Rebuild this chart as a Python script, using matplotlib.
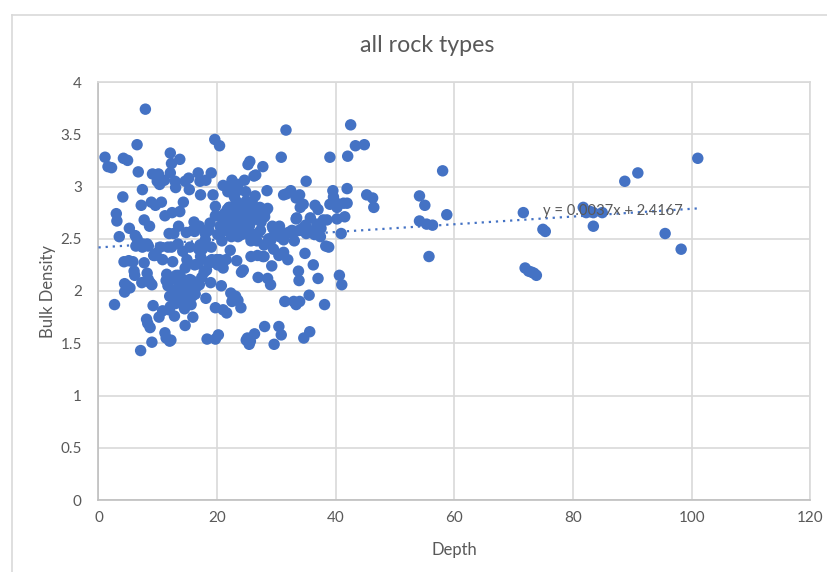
import matplotlib
matplotlib.use("Agg")
import matplotlib.pyplot as plt
from matplotlib.lines import Line2D

title = "all rock types"
x_label = "Depth"
y_label = "Bulk Density"
x_ticks = [0, 20, 40, 60, 80, 100, 120]
y_ticks = [0, 0.5, 1, 1.5, 2, 2.5, 3, 3.5, 4]
y_tick_labels = ["0", "0.5", "1", "1.5", "2", "2.5", "3", "3.5", "4"]
slope = 0.0037
intercept = 2.4167
trend_x = [0, 101]
trend_label = "y = 0.0037x + 2.4167"

depth_upper = [7.9, 1.1, 1.6, 2.2, 4.2, 4.9, 6.5, 6.7, 4.1, 7.4, 9.1, 10.1, 9.9, 10.3, 11.1, 12.1, 12.3, 13.7,
               12.1, 12.9, 13.0, 14.6, 15.2, 16.8, 17.1, 18.1, 19.0, 19.6, 20.4, 21.8, 22.5, 23.5, 24.6, 25.2,
               25.5, 26.2, 26.5, 27.7, 28.4, 31.6, 30.8, 31.7, 32.4, 33.3, 33.9, 35.0, 34.5, 39.0, 42.0, 42.5,
               43.3, 44.8, 45.2, 46.2, 46.4, 41.9, 39.5, 39.6, 39.9, 41.3, 41.9, 39.0, 40.2, 38.5, 37.5, 37.0,
               36.5, 34.9, 34.0, 33.4, 33.3, 32.0, 31.2, 30.5, 29.4, 28.5, 28.1, 27.2, 26.4, 25.9, 24.8, 23.4,
               22.9, 21.8, 21.0, 19.3, 19.7, 17.2, 15.3, 14.3, 13.7, 12.4, 11.2, 10.6, 9.6, 8.9, 8.6, 7.7, 7.2,
               3.0, 3.1, 3.5, 5.2, 6.2, 7.5, 8.4, 9.7, 11.9, 13.5, 14.8, 16.1, 17.0, 18.0, 19.7, 20.6, 21.7,
               22.6, 23.7, 24.4, 25.4, 26.2, 27.3, 28.7, 29.3, 30.5, 31.8, 33.2, 34.6, 36.0, 37.4, 38.3, 40.2,
               41.5, 40.9, 36.8, 35.7, 34.1, 32.6, 31.2, 29.9, 29.0, 27.9, 26.8, 25.7, 24.6, 23.5, 22.4, 21.2,
               20.1, 19.0, 18.0, 17.1, 16.2, 15.4, 14.2, 13.4, 12.7, 11.7, 10.4, 9.3, 8.2, 7.4, 6.5, 22.1, 23.0,
               24.0, 25.0, 26.0, 27.0, 24.5, 23.6, 22.7, 25.6, 26.7, 21.5, 20.5, 28.0, 30.0, 33.0, 35.5, 37.9,
               38.8, 18.8, 15.9, 12.3, 24.2, 23.2, 25.3]
density_upper = [3.74, 3.28, 3.19, 3.18, 3.27, 3.25, 3.40, 3.14, 2.90, 2.97, 3.12, 3.12, 3.05, 3.02, 3.06, 3.32, 3.22, 3.26,
                 3.13, 3.05, 2.99, 3.05, 3.08, 3.13, 3.05, 3.06, 3.13, 3.45, 3.39, 3.00, 3.06, 3.02, 3.06, 3.21,
                 3.24, 3.10, 3.11, 3.19, 2.96, 3.54, 3.28, 2.93, 2.96, 2.89, 2.92, 3.05, 2.83, 3.28, 3.29, 3.59,
                 3.39, 3.40, 2.92, 2.89, 2.80, 2.98, 2.96, 2.90, 2.85, 2.84, 2.84, 2.83, 2.80, 2.68, 2.60, 2.78,
                 2.82, 2.63, 2.80, 2.70, 2.69, 2.56, 2.92, 2.62, 2.60, 2.79, 2.76, 2.80, 2.91, 2.85, 2.95, 2.96,
                 2.90, 2.95, 3.01, 2.92, 2.81, 2.92, 2.97, 2.85, 2.76, 2.75, 2.72, 2.85, 2.82, 2.85, 2.62, 2.68, 2.82,
                 2.74, 2.67, 2.52, 2.60, 2.53, 2.45, 2.43, 2.36, 2.55, 2.62, 2.56, 2.66, 2.62, 2.55, 2.72, 2.71, 2.78,
                 2.70, 2.74, 2.65, 2.62, 2.70, 2.58, 2.50, 2.62, 2.52, 2.55, 2.57, 2.61, 2.57, 2.52, 2.43, 2.69,
                 2.71, 2.55, 2.64, 2.70, 2.59, 2.58, 2.49, 2.58, 2.48, 2.44, 2.55, 2.48, 2.60, 2.52, 2.62, 2.58,
                 2.54, 2.42, 2.49, 2.44, 2.57, 2.42, 2.38, 2.45, 2.55, 2.42, 2.42, 2.34, 2.45, 2.42, 2.50, 2.80, 2.72,
                 2.83, 2.78, 2.68, 2.75, 2.63, 2.58, 2.65, 2.52, 2.48, 2.66, 2.62, 2.71, 2.55, 2.48, 2.58, 2.68,
                 2.42, 2.65, 2.58, 2.42, 2.78, 2.86, 2.58]

depth_lower = [2.7, 4.3, 4.4, 4.4, 4.8, 5.3, 5.8, 6.0, 6.1, 7.3, 8.2, 8.4, 8.7, 9.2, 9.0, 10.2, 10.8, 11.2, 11.4, 11.7,
               12.0, 12.7, 13.5, 13.9, 14.5, 15.1, 15.9, 16.3, 17.0, 18.1, 18.9, 19.7, 20.7, 21.0, 21.6, 22.3, 23.5, 24.0,
               25.6, 26.3, 26.9, 28.0, 28.5, 29.0, 30.4, 30.8, 31.4, 32.9, 33.3, 33.9, 34.6, 35.6, 36.2, 37.0, 38.1,
               40.6, 41.0, 24.9, 25.4, 25.1, 29.6, 13.0, 14.5, 15.9, 18.3, 12.2, 12.8, 11.9, 7.1, 8.1, 8.3, 8.7, 9.0, 11.4,
               12.0, 12.1, 14.6, 15.6, 19.7, 20.2, 20.4, 29.2, 30.4, 31.2, 33.8, 34.8, 35.5, 27.9,
               5.1, 6.3, 7.7, 9.5, 10.8, 11.5, 12.5, 13.8, 14.6, 15.4, 16.8, 18.2, 18.8, 19.9, 21.0, 22.2, 23.3, 24.4,
               25.7, 26.8, 27.7, 29.5, 31.9, 33.7, 16.2, 17.2, 13.3, 14.0, 15.1, 15.8, 12.9, 13.2, 21.5, 22.5, 23.1,
               24.1, 19.1, 20.1, 17.8, 16.5, 14.9]
density_lower = [1.87, 2.28, 2.07, 1.99, 2.05, 2.03, 2.28, 2.19, 2.15, 2.08, 2.17, 2.11, 2.08, 1.86, 2.06, 1.75, 1.81, 1.60, 2.10, 2.05,
                 1.95, 2.12, 2.15, 1.98, 1.93, 2.05, 2.00, 1.97, 2.06, 1.93, 2.08, 1.84, 2.05, 1.82, 1.79, 1.98, 1.91, 1.84,
                 1.52, 1.59, 2.13, 1.66, 2.12, 2.06, 1.66, 1.58, 1.90, 1.90, 1.87, 1.90, 1.55, 1.61, 2.25, 2.12, 1.87,
                 2.15, 2.06, 1.53, 1.49, 1.55, 1.49, 1.88, 1.83, 1.75, 1.54, 1.53, 1.76, 1.82, 1.43, 1.73, 1.69, 1.65, 1.51, 1.55,
                 1.52, 1.85, 1.67, 1.87, 1.54, 1.58, 2.30, 2.24, 2.34, 2.37, 2.10, 2.36, 1.96, 2.33,
                 2.29, 2.43, 2.27, 2.34, 2.30, 2.16, 2.28, 2.14, 2.22, 2.11, 2.26, 2.20, 2.27, 2.30, 2.22, 2.39, 2.29, 2.20,
                 2.33, 2.34, 2.33, 2.40, 2.30, 2.19, 2.25, 2.33, 2.10, 2.06, 2.02, 1.95, 1.92, 1.98, 2.30, 1.90, 1.95,
                 2.18, 2.30, 2.25, 2.18, 2.04, 2.30]

depth_dense = [21.2, 22.0, 22.9, 23.8, 24.6, 25.5, 26.4, 21.6, 23.3, 24.9, 26.1, 27.4, 22.4, 24.1, 25.8, 23.0, 24.4,
               14.0, 15.0, 16.0, 17.4, 12.6, 13.6, 14.7, 15.7, 13.1, 15.3, 16.9, 18.6, 20.8, 17.5, 18.5, 29.6, 31.0,
               35.0, 36.4, 33.9]
density_dense = [2.74, 2.80, 2.66, 2.82, 2.70, 2.64, 2.76, 2.58, 2.60, 2.86, 2.80, 2.66, 2.52, 2.54, 2.72, 2.76, 2.68,
                 2.06, 2.10, 2.04, 2.13, 2.01, 1.90, 1.98, 2.10, 2.15, 1.91, 2.40, 2.58, 2.48, 2.40, 2.28, 2.53, 2.55,
                 2.55, 2.54, 2.58]

depth_far = [54.1, 55.0, 54.1, 55.3, 56.3, 55.7, 58.0, 58.7, 71.6, 71.9, 72.5, 73.0, 73.4, 73.8, 74.9, 75.3,
             81.7, 82.2, 82.9, 83.4, 83.4, 84.9, 88.7, 90.9, 95.5, 98.2, 101.0]
density_far = [2.91, 2.82, 2.67, 2.64, 2.63, 2.33, 3.15, 2.73, 2.75, 2.22, 2.19, 2.18, 2.17, 2.15, 2.59, 2.57,
               2.80, 2.75, 2.76, 2.62, 2.75, 2.75, 3.05, 3.13, 2.55, 2.40, 3.27]

depth = depth_upper + depth_lower + depth_dense + depth_far
density = density_upper + density_lower + density_dense + density_far

plt.rcParams["font.family"] = ["Lato", "DejaVu Sans"]
W, H = 828, 572
fig = plt.figure(figsize=(W / 100, H / 100), dpi=100, facecolor="white")
ax = fig.add_axes([98.5 / W, 1 - 500 / H, (810.5 - 98.5) / W, (500 - 82) / H])
ax.set_xlim(0, 120)
ax.set_ylim(0, 4)
ax.set_xticks(x_ticks)
ax.set_yticks(y_ticks)
ax.set_yticklabels(y_tick_labels)
ax.grid(True, color="#D9D9D9", lw=1.2)
ax.set_axisbelow(True)
for side, spine in ax.spines.items():
    spine.set_color("#BFBFBF" if side in ("left", "bottom") else "#D9D9D9")
    spine.set_linewidth(1.2)
ax.tick_params(axis="x", length=0, labelsize=11, labelcolor="#595959", pad=8)
ax.tick_params(axis="y", length=0, labelsize=11, labelcolor="#595959", pad=12)

ax.scatter(depth, density, s=68, color="#4472C4", edgecolors="none", zorder=3, clip_on=False)
ax.plot(trend_x, [slope * v + intercept for v in trend_x], color="#4472C4", lw=1.6,
        linestyle=(0, (1, 2.2)), zorder=4)
ax.text(75.0, 2.77, trend_label, fontsize=10.6, color="#595959", va="center", ha="left", zorder=5)

ax.set_xlabel(x_label, fontsize=12, color="#595959", labelpad=12)
ax.set_ylabel(y_label, fontsize=12, color="#595959", labelpad=3)
fig.text(427.5 / W, 1 - 46 / H, title, fontsize=16.7, color="#595959", ha="center", va="center")

fig.add_artist(Line2D([12 / W, 12 / W], [0, 1 - 15 / H], color="#D9D9D9", lw=1.2))
fig.add_artist(Line2D([12 / W, 1], [1 - 15 / H, 1 - 15 / H], color="#D9D9D9", lw=1.2))

fig.savefig("out.png", dpi=100)
